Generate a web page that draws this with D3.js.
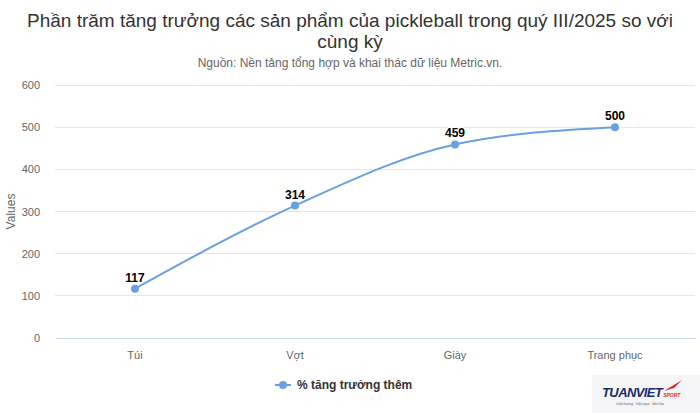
<!DOCTYPE html>
<html><head><meta charset="utf-8">
<script src="https://cdn.jsdelivr.net/npm/d3@7"></script>
<style>body{margin:0;background:#fff;}svg{display:block;font-family:"Liberation Sans",Arial,Helvetica,sans-serif;}</style>
</head><body>
<svg id="c" width="700" height="413"></svg>
<script>
const categories = ["Túi", "Vợt", "Giày", "Trang phục"];
const values = [117, 314, 459, 500];
const yTicks = [0, 100, 200, 300, 400, 500, 600];
const seriesName = "% tăng trưởng thêm";
const titleLines = ["Phần trăm tăng trưởng các sản phẩm của pickleball trong quý III/2025 so với", "cùng kỳ"];
const subtitle = "Nguồn: Nền tảng tổng hợp và khai thác dữ liệu Metric.vn.";
const yTitle = "Values";

const svg = d3.select("#c");
const color = "#68a0e0";
const L = 55, R = 695, T = 85, B = 338;

const x = d3.scaleBand().domain(categories).range([L, R]);
const y = d3.scaleLinear().domain([0, 600]).range([B, T]);

// title
svg.selectAll("text.title").data(titleLines).join("text")
  .attr("x", 350).attr("y", (d, i) => 27 + i * 21)
  .attr("text-anchor", "middle").attr("fill", "#333").attr("font-size", 19)
  .text(d => d);
svg.append("text").attr("x", 350).attr("y", 67).attr("text-anchor", "middle")
  .attr("fill", "#666").attr("font-size", 12).text(subtitle);

// grid
svg.append("g").selectAll("line").data(yTicks.filter(d => d > 0)).join("line")
  .attr("x1", L).attr("x2", R).attr("y1", d => y(d)).attr("y2", d => y(d))
  .attr("stroke", "#e6e6e6").attr("stroke-width", 1).attr("shape-rendering", "crispEdges");

// y axis labels
const ya = svg.append("g").attr("transform", `translate(${L},0)`)
  .call(d3.axisLeft(y).tickValues(yTicks).tickSize(0).tickPadding(15));
ya.select(".domain").remove();
ya.selectAll("text").attr("fill", "#666").attr("font-size", 11).attr("font-family", "Liberation Sans, Arial, sans-serif");

svg.append("text").attr("transform", `translate(11,${(T + B) / 2}) rotate(-90)`)
  .attr("text-anchor", "middle").attr("dy", "0.35em").attr("fill", "#666").attr("font-size", 12).text(yTitle);

// x axis
const xa = svg.append("g").attr("transform", `translate(0,${B})`)
  .call(d3.axisBottom(x).tickSize(0).tickPadding(13));
xa.select(".domain").attr("stroke", "#ccd6eb").attr("shape-rendering", "crispEdges");
xa.selectAll("text").attr("fill", "#666").attr("font-size", 11).attr("font-family", "Liberation Sans, Arial, sans-serif");

// line
const cx = d => x(d) + x.bandwidth() / 2;
const pts = categories.map((c, i) => [cx(c), y(values[i])]);
svg.append("path").datum(pts)
  .attr("d", d3.line().curve(d3.curveMonotoneX))
  .attr("fill", "none").attr("stroke", color).attr("stroke-width", 2);
svg.append("g").selectAll("circle").data(pts).join("circle")
  .attr("cx", d => d[0]).attr("cy", d => d[1]).attr("r", 4).attr("fill", color);

// data labels
svg.append("g").selectAll("text").data(values).join("text")
  .attr("x", (d, i) => cx(categories[i])).attr("y", d => y(d) - 7)
  .attr("text-anchor", "middle").attr("font-size", 12).attr("font-weight", "bold")
  .attr("fill", "#000").attr("stroke", "#fff").attr("stroke-width", 2).attr("paint-order", "stroke")
  .text(d => d);

// legend
const lg = svg.append("g").attr("transform", "translate(275,385)");
lg.append("line").attr("x1", 0).attr("x2", 16).attr("stroke", color).attr("stroke-width", 2);
lg.append("circle").attr("cx", 8).attr("r", 4).attr("fill", color);
lg.append("text").attr("x", 22).attr("dy", "0.35em").attr("font-size", 12).attr("font-weight", "bold")
  .attr("fill", "#333").text(seriesName);

// logo
const logo = svg.append("g").attr("transform", "translate(602,397)");
logo.append("rect").attr("x", -10).attr("y", -22).attr("width", 108).attr("height", 40).attr("fill", "#f5f5f7");
const lt = logo.append("text").attr("x", 0).attr("y", 0).attr("font-weight", "bold").attr("font-style", "italic");
lt.append("tspan").attr("font-size", 13).attr("fill", "#1b2a6b").attr("letter-spacing", -0.6).text("TUANVIET");
lt.append("tspan").attr("font-size", 5).attr("fill", "#d9262c").attr("dx", 1).text("SPORT");
logo.append("path").attr("d", "M62,-6 L80,-17 L72,-9 Z").attr("fill", "#d9262c");
logo.append("text").attr("x", 14).attr("y", 8).attr("font-size", 3.5).attr("fill", "#666").text("chất lượng · hiệu quả · bền lâu");
</script>
</body></html>
